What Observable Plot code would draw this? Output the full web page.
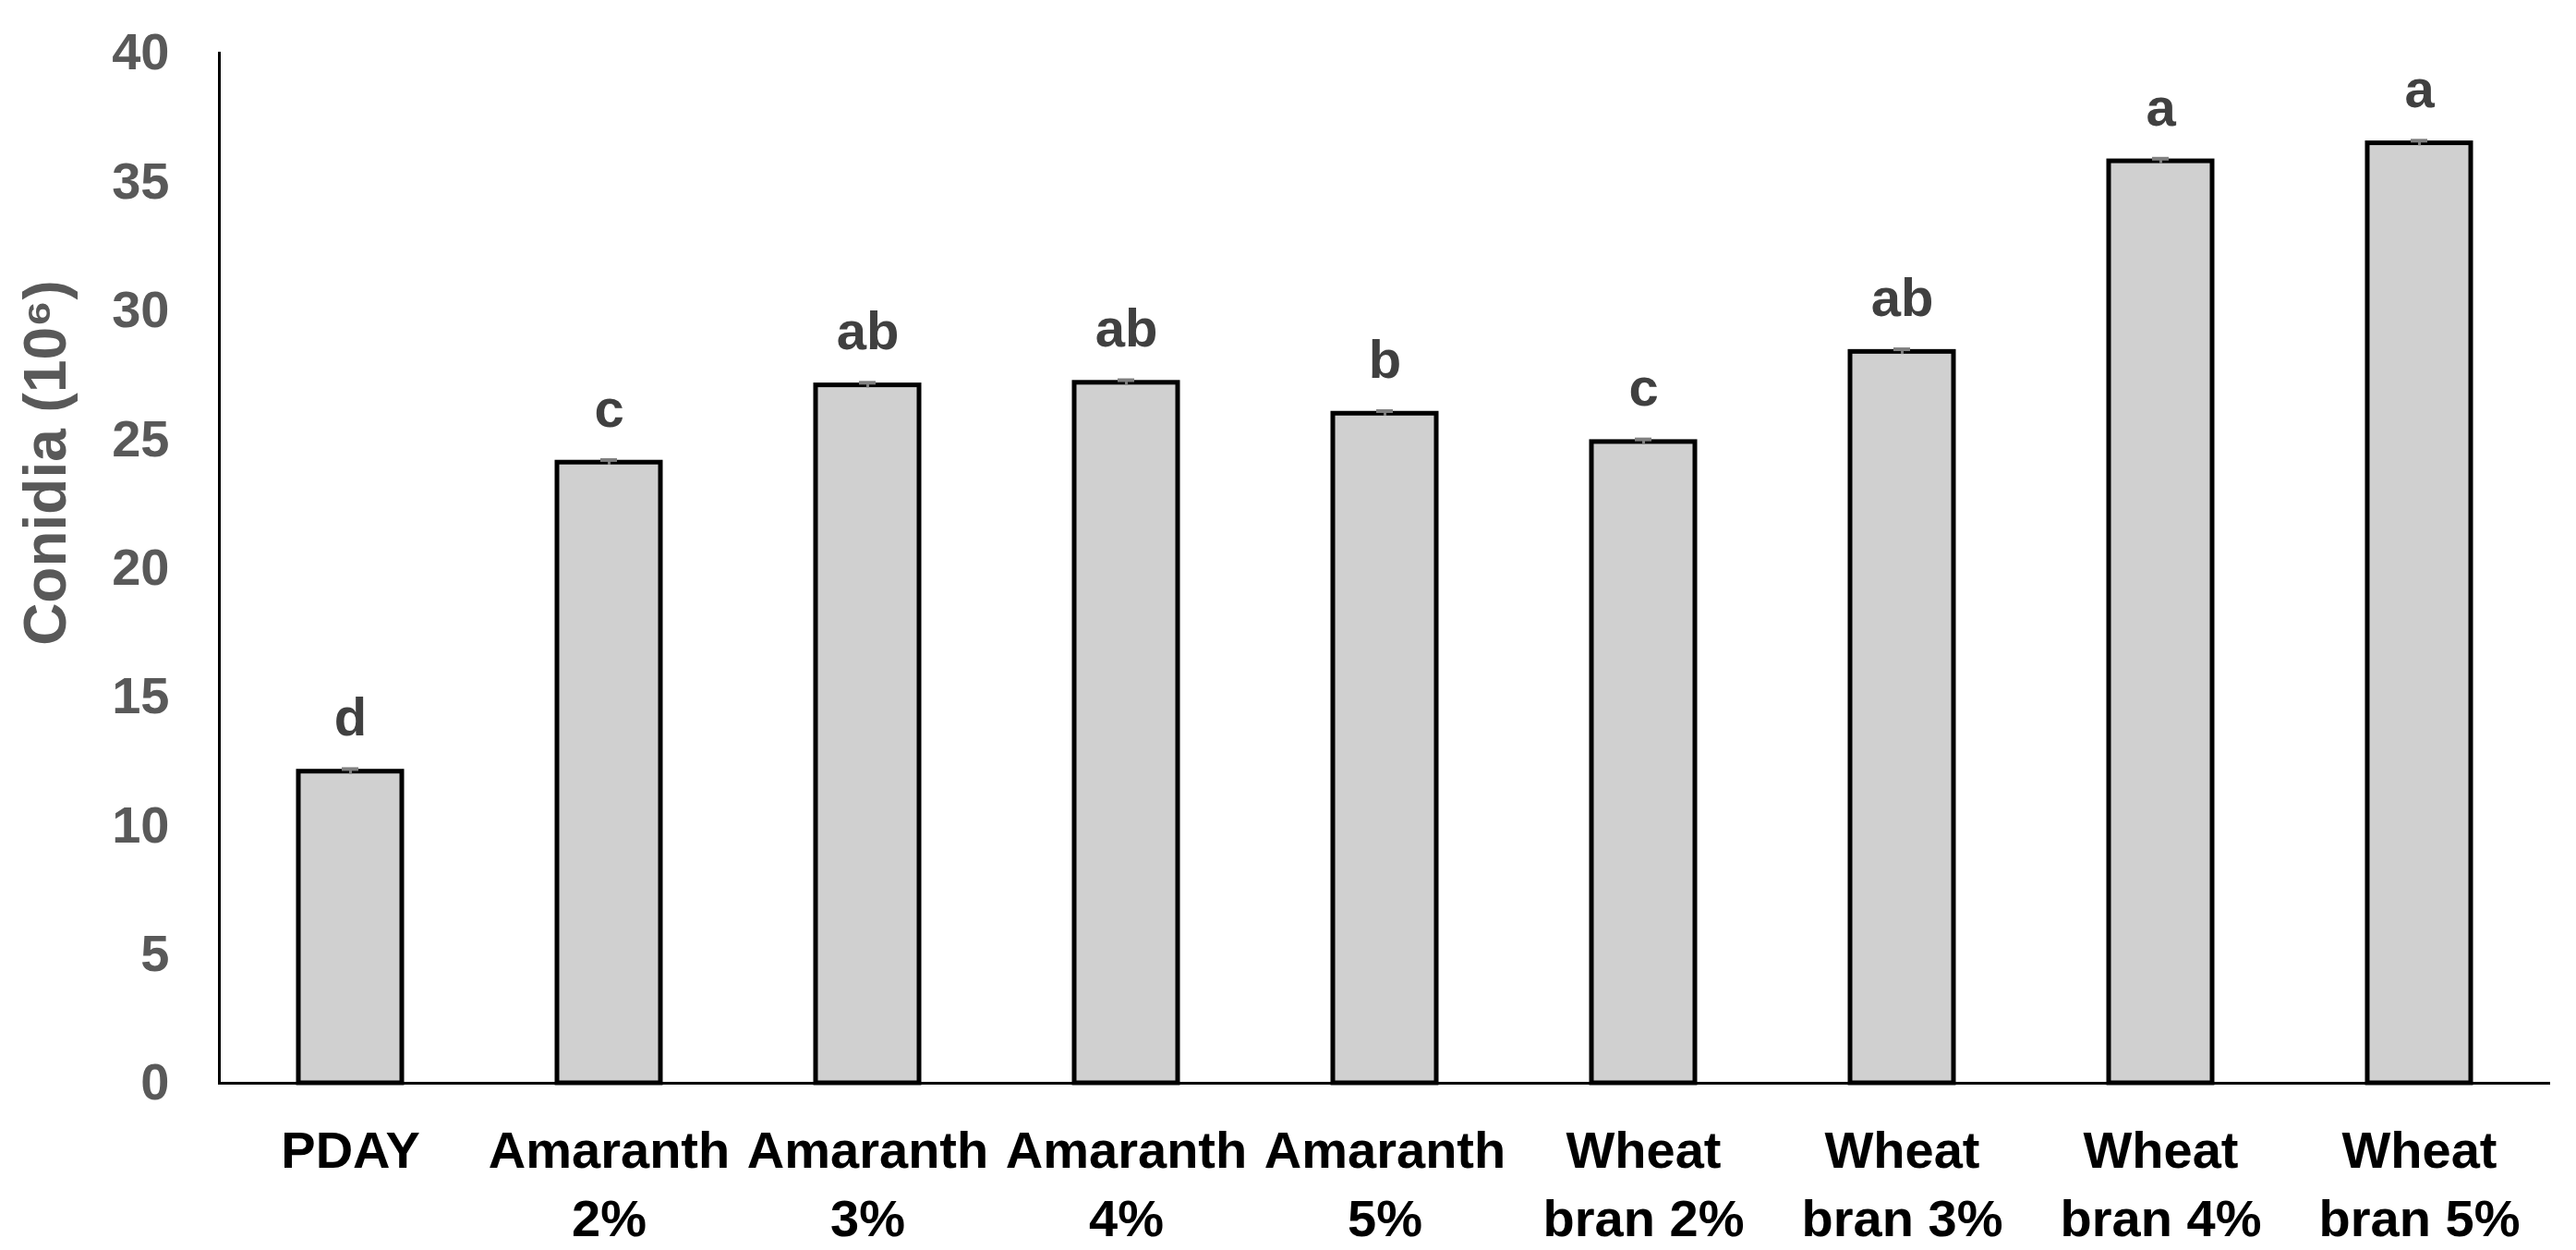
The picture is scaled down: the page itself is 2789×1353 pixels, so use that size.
<!DOCTYPE html>
<html>
<head>
<meta charset="utf-8">
<script src="https://cdn.jsdelivr.net/npm/d3@7"></script>
<script src="https://cdn.jsdelivr.net/npm/@observablehq/plot@0.6"></script>
<style>
  html, body { margin: 0; padding: 0; background: white; }
</style>
</head>
<body>
<div id="chart"></div>
<script>
const categories = ["PDAY", "Amaranth 2%", "Amaranth 3%", "Amaranth 4%", "Amaranth 5%",
  "Wheat bran 2%", "Wheat bran 3%", "Wheat bran 4%", "Wheat bran 5%"];
const tickLabels = ["PDAY", "Amaranth\n2%", "Amaranth\n3%", "Amaranth\n4%", "Amaranth\n5%",
  "Wheat\nbran 2%", "Wheat\nbran 3%", "Wheat\nbran 4%", "Wheat\nbran 5%"];
const values = [12.1, 24.1, 27.1, 27.2, 26.0, 24.9, 28.4, 35.8, 36.5];
const errors = [0.1, 0.1, 0.1, 0.1, 0.1, 0.1, 0.1, 0.1, 0.1];
const letters = ["d", "c", "ab", "ab", "b", "c", "ab", "a", "a"];
const yTicks = [0, 5, 10, 15, 20, 25, 30, 35, 40];
const yTitle = "Conidia (10\u2076)";

const data = categories.map((c, i) => ({
  cat: c, value: values[i], err: errors[i], letter: letters[i], label: tickLabels[i]
}));
const labelOf = new Map(data.map(d => [d.cat, d.label]));

const chart = Plot.plot({
  width: 2789,
  height: 1353,
  marginLeft: 237,
  marginRight: 28,
  marginTop: 57,
  marginBottom: 181,
  style: {
    fontFamily: "'Liberation Sans', Arial, sans-serif",
    fontSize: "56px",
    fontWeight: "bold",
    background: "white"
  },
  x: { domain: categories, paddingInner: 0.6, paddingOuter: 0.3, label: null },
  y: { domain: [0, 40], label: null },
  marks: [
    Plot.barY(data, { x: "cat", y: "value", fill: "#d0d0d0", stroke: "black", strokeWidth: 5 }),
    Plot.ruleX(data, { x: "cat", y1: d => d.value - d.err, y2: d => d.value + d.err, stroke: "#7f7f7f", strokeWidth: 3 }),
    Plot.tickY(data, { x: "cat", y: d => d.value + d.err, stroke: "#7f7f7f", strokeWidth: 4, insetLeft: 47, insetRight: 47 }),
    Plot.text(data, { x: "cat", y: "value", text: "letter", lineAnchor: "bottom", dy: -39, fill: "#404040", fontSize: 58, fontWeight: "bold" }),
    Plot.ruleY([0], { stroke: "black", strokeWidth: 3 }),
    Plot.frame({ anchor: "left", stroke: "black", strokeWidth: 3 }),
    Plot.axisY({ ticks: yTicks, tickSize: 0, tickPadding: 54, color: "#595959", label: null, fontSize: 56, fontWeight: "bold" }),
    Plot.axisX({ tickSize: 0, tickPadding: 39, color: "black", label: null, lineHeight: 1.32, tickFormat: d => labelOf.get(d), fontSize: 56, fontWeight: "bold" }),
    Plot.text([yTitle], { frameAnchor: "left", textAnchor: "middle", rotate: -90, dx: -187, dy: -114, fill: "#595959", fontSize: 64, fontWeight: "bold", text: d => d })
  ]
});
document.getElementById("chart").appendChild(chart);
</script>
</body>
</html>
